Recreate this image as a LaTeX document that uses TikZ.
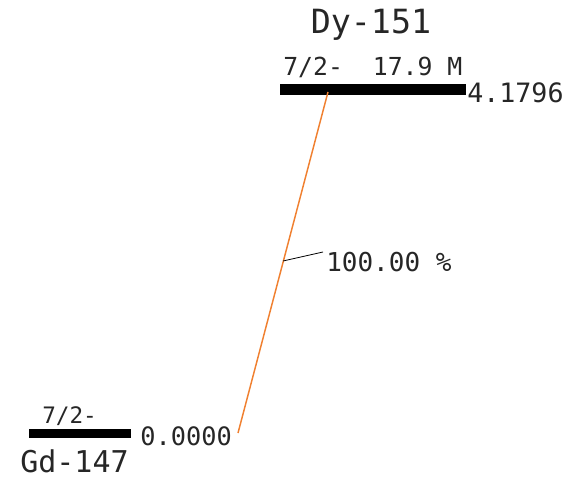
\documentclass[tikz,border=0pt]{standalone}
\usepackage{fontspec}
\setmonofont{DejaVu Sans Mono}
\begin{document}
\begin{tikzpicture}[x=0.75pt,y=-0.75pt,
  lbl/.style={font=\ttfamily, inner sep=0pt, text=black!85},
  lvlbar/.style={fill=black, draw=none},
  gam/.style={draw={rgb,255:red,240;green,128;blue,48}, line width=1.1pt}]
\useasboundingbox (0,0) rectangle (575,485);
% levels
\path[lvlbar] (280,84) rectangle (466,95);
\path[lvlbar] (29,429) rectangle (131,438);
\coordinate (topL) at (328,92);
\coordinate (botL) at (238,433);
% texts
\node[lbl, font=\ttfamily\fontsize{25}{25}\selectfont] (dy) at (371,25) {Dy-151};
\node[lbl, font=\ttfamily\fontsize{18.6}{18.6}\selectfont, anchor=west] (tlev) at (283,67) {7/2-\ \ 17.9 M};
\node[lbl, font=\ttfamily\fontsize{20}{20}\selectfont, anchor=west] (ten) at (467,93) {4.1796};
\node[lbl, font=\ttfamily\fontsize{17}{17}\selectfont, anchor=west] (blev) at (42,416) {7/2-};
\node[lbl, font=\ttfamily\fontsize{19}{19}\selectfont, anchor=west] (ben) at (140,436) {0.0000};
\node[lbl, font=\ttfamily\fontsize{22.5}{22.5}\selectfont, anchor=west] (gd) at (20,461) {Gd-147};
\node[lbl, font=\ttfamily\fontsize{19.5}{19.5}\selectfont, anchor=west] (pct) at (326,262) {100.00 \%};
% transition
\draw[gam] (topL) -- (botL);
\coordinate (lk) at (283,261);
\coordinate (lend) at (323,252);
\draw[black, line width=0.6pt] (lk) -- (lend);
\end{tikzpicture}
\end{document}
